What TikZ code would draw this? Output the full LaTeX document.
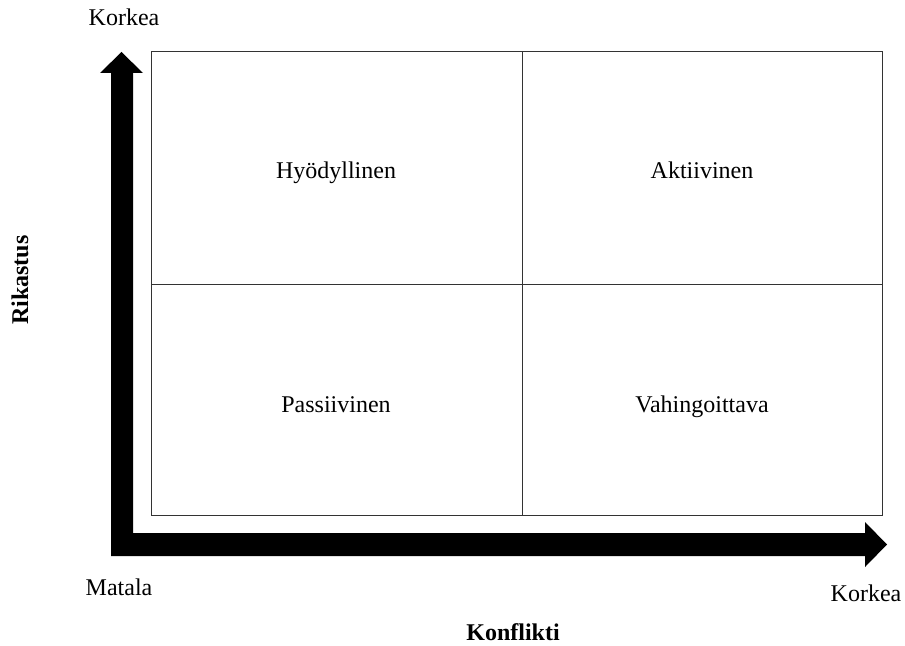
\documentclass[tikz,border=0pt]{standalone}
\usepackage{fontspec}
\setmainfont{Liberation Serif}
\tikzset{
  quadlabel/.style={font=\fontsize{18}{21}\selectfont, anchor=base, inner sep=0pt},
  axislabel/.style={quadlabel, font=\fontsize{18}{21}\selectfont\bfseries},
  gridline/.style={black!80, line width=0.75pt}
}

\begin{document}
\begin{tikzpicture}[x=0.75pt,y=-0.75pt]
    \useasboundingbox (0,0) rectangle (905,645);
    % thick L-shaped axis arrow
    \fill [black] (111,556) -- (111,73) -- (100,73) -- (121.5,52) -- (143,73)
      -- (133,73) -- (133,533) -- (865,533) -- (865,522) -- (887,544.5)
      -- (865,567) -- (865,556) -- cycle;
    % the four fields
    \draw [gridline] (151,52) rectangle (882,515);
    \draw [gridline] (522,52) -- (522,515);
    \draw [gridline] (151,284) -- (882,284);
    \node [quadlabel] (hyod) at (336,179) {Hyödyllinen};
    \node [quadlabel] (akti) at (702,179) {Aktiivinen};
    \node [quadlabel] (pass) at (336,412) {Passiivinen};
    \node [quadlabel] (vahi) at (702,412) {Vahingoittava};
    % axis ends
    \node [quadlabel] (ytop) at (124,26) {Korkea};
    \node [quadlabel] (orig) at (119,595) {Matala};
    \node [quadlabel] (xend) at (866,601) {Korkea};
    \node [axislabel] (xlab) at (513,640) {Konflikti};
    \node [axislabel, rotate=90, anchor=center] (ylab) at (20,280) {Rikastus};
\end{tikzpicture}
\end{document}
